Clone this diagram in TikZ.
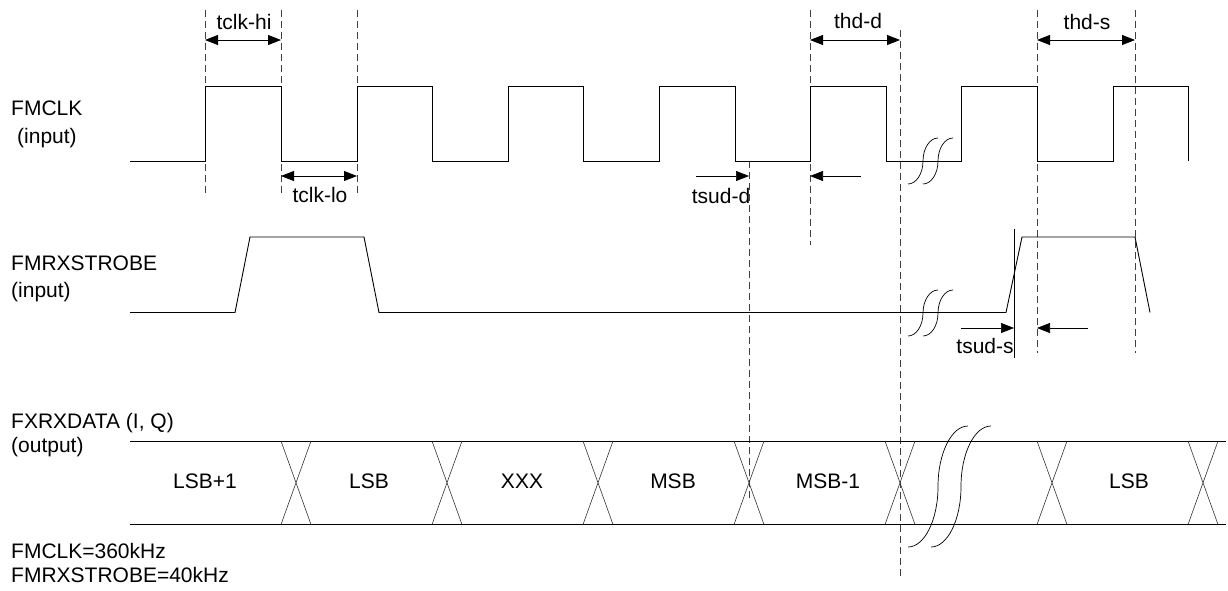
\documentclass[tikz,border=0pt]{standalone}
\usepackage{fontspec}
\setmainfont{Liberation Sans}
\usetikzlibrary{arrows.meta}
\tikzset{
  x=1pt,y=-1pt,
  signal/.style={draw=black,line width=0.9pt,line join=miter},
  guide/.style={draw=black!75,line width=0.8pt,dash pattern=on 6.5pt off 4.5pt},
  cross/.style={draw=black!80,line width=0.6pt},
  dim/.style={draw=black,line width=0.8pt,{Triangle[length=13pt,width=10pt]}-{Triangle[length=13pt,width=10pt]}},
  lead/.style={draw=black,line width=0.7pt,-{Triangle[length=13pt,width=10pt]}},
  txt/.style={font=\fontsize{21}{24}\selectfont,inner sep=0pt,anchor=base},
  lbl/.style={font=\fontsize{21}{24}\selectfont,inner sep=0pt,anchor=base west},
  pics/squig/.style={code={\draw[black,line width=0.7pt] (-1,1) .. controls (-.45,1) and (0,.55) .. (0,0) .. controls (0,-.55) and (.45,-1) .. (1,-1);}}
}
\begin{document}
\begin{tikzpicture}
\useasboundingbox (0,0) rectangle (1228,590);
% guides
\foreach \gx/\ya/\yb in {205/10/197,281/10/197,357/10/197,810/10/245,900/30/577,749/161/502,1037/10/353,1135/10/353}
  \draw[guide] (\gx,\ya) -- (\gx,\yb);
% clock
\draw[signal] (130,161) -- (205,161) -- (205,86) -- (281,86) -- (281,161) -- (357,161) -- (357,86) -- (432,86) -- (432,161) -- (508,161) -- (508,86) -- (583,86) -- (583,161) -- (659,161) -- (659,86) -- (735,86) -- (735,161) -- (810,161) -- (810,86) -- (886,86) -- (886,161) -- (961,161) -- (961,86) -- (1037,86) -- (1037,161) -- (1113,161) -- (1113,86) -- (1188,86) -- (1188,161);
% strobe
\draw[signal] (130,312.5) -- (235,312.5) -- (250,237) -- (364,237) -- (379,312.5) -- (1006,312.5) -- (1022,237) -- (1135,237) -- (1150,312.5);
\draw[signal] (1014,229) -- (1014,358);
% data
\draw[signal] (130,441) -- (1226,441);
\draw[signal] (130,524.5) -- (1226,524.5);
\foreach \cx in {296,447,598,749,900,1052,1203}
  \draw[cross] (\cx-15,441) -- (\cx+15,524.5) (\cx+15,441) -- (\cx-15,524.5);
% breaks
\foreach \cx in {923,938} {
  \pic[xscale=15,yscale=23] at (\cx,161) {squig};
  \pic[xscale=15,yscale=23] at (\cx,313) {squig};
}
\foreach \cx in {938,961}
  \pic[xscale=30,yscale=60.5] at (\cx,486.5) {squig};
% dimension arrows
\coordinate (a1) at (205,40); \coordinate (a2) at (281,40);
\coordinate (b1) at (281,176); \coordinate (b2) at (357,176);
\coordinate (c1) at (810,40); \coordinate (c2) at (900,40);
\coordinate (d1) at (1037,40); \coordinate (d2) at (1135,40);
\draw[dim] (a1) -- (a2);
\draw[dim] (b1) -- (b2);
\draw[dim] (c1) -- (c2);
\draw[dim] (d1) -- (d2);
\coordinate (e0) at (696,176); \coordinate (e1) at (749,176);
\coordinate (f0) at (861,176); \coordinate (f1) at (810,176);
\coordinate (g0) at (961,328); \coordinate (g1) at (1014,328);
\coordinate (h0) at (1088,328); \coordinate (h1) at (1037,328);
\draw[lead] (e0) -- (e1);
\draw[lead] (f0) -- (f1);
\draw[lead] (g0) -- (g1);
\draw[lead] (h0) -- (h1);
% labels
\node[txt] (t1) at (244,29) {tclk-hi};
\node[txt] (t2) at (320,202) {tclk-lo};
\node[txt] (t3) at (858,28.5) {thd-d};
\node[txt] (t4) at (1087,29) {thd-s};
\node[txt] (t5) at (721,203) {tsud-d};
\node[txt] (t6) at (985,353) {tsud-s};
\node[lbl] (l1) at (11,115) {FMCLK};
\node[lbl] (l2) at (17,143) {(input)};
\node[lbl] (l3) at (11,270) {FMRXSTROBE};
\node[lbl] (l4) at (11,297) {(input)};
\node[lbl] (l5) at (11,428) {FXRXDATA (I, Q)};
\node[lbl] (l6) at (11,452) {(output)};
\node[lbl] (l7) at (11,558) {FMCLK=360kHz};
\node[lbl] (l8) at (11,582) {FMRXSTROBE=40kHz};
\node[txt] (d1t) at (205,488) {LSB+1};
\node[txt] (d2t) at (369,488) {LSB};
\node[txt] (d3t) at (522,488) {XXX};
\node[txt] (d4t) at (673,488) {MSB};
\node[txt] (d5t) at (828,488) {MSB-1};
\node[txt] (d6t) at (1129,488) {LSB};
\end{tikzpicture}
\end{document}
